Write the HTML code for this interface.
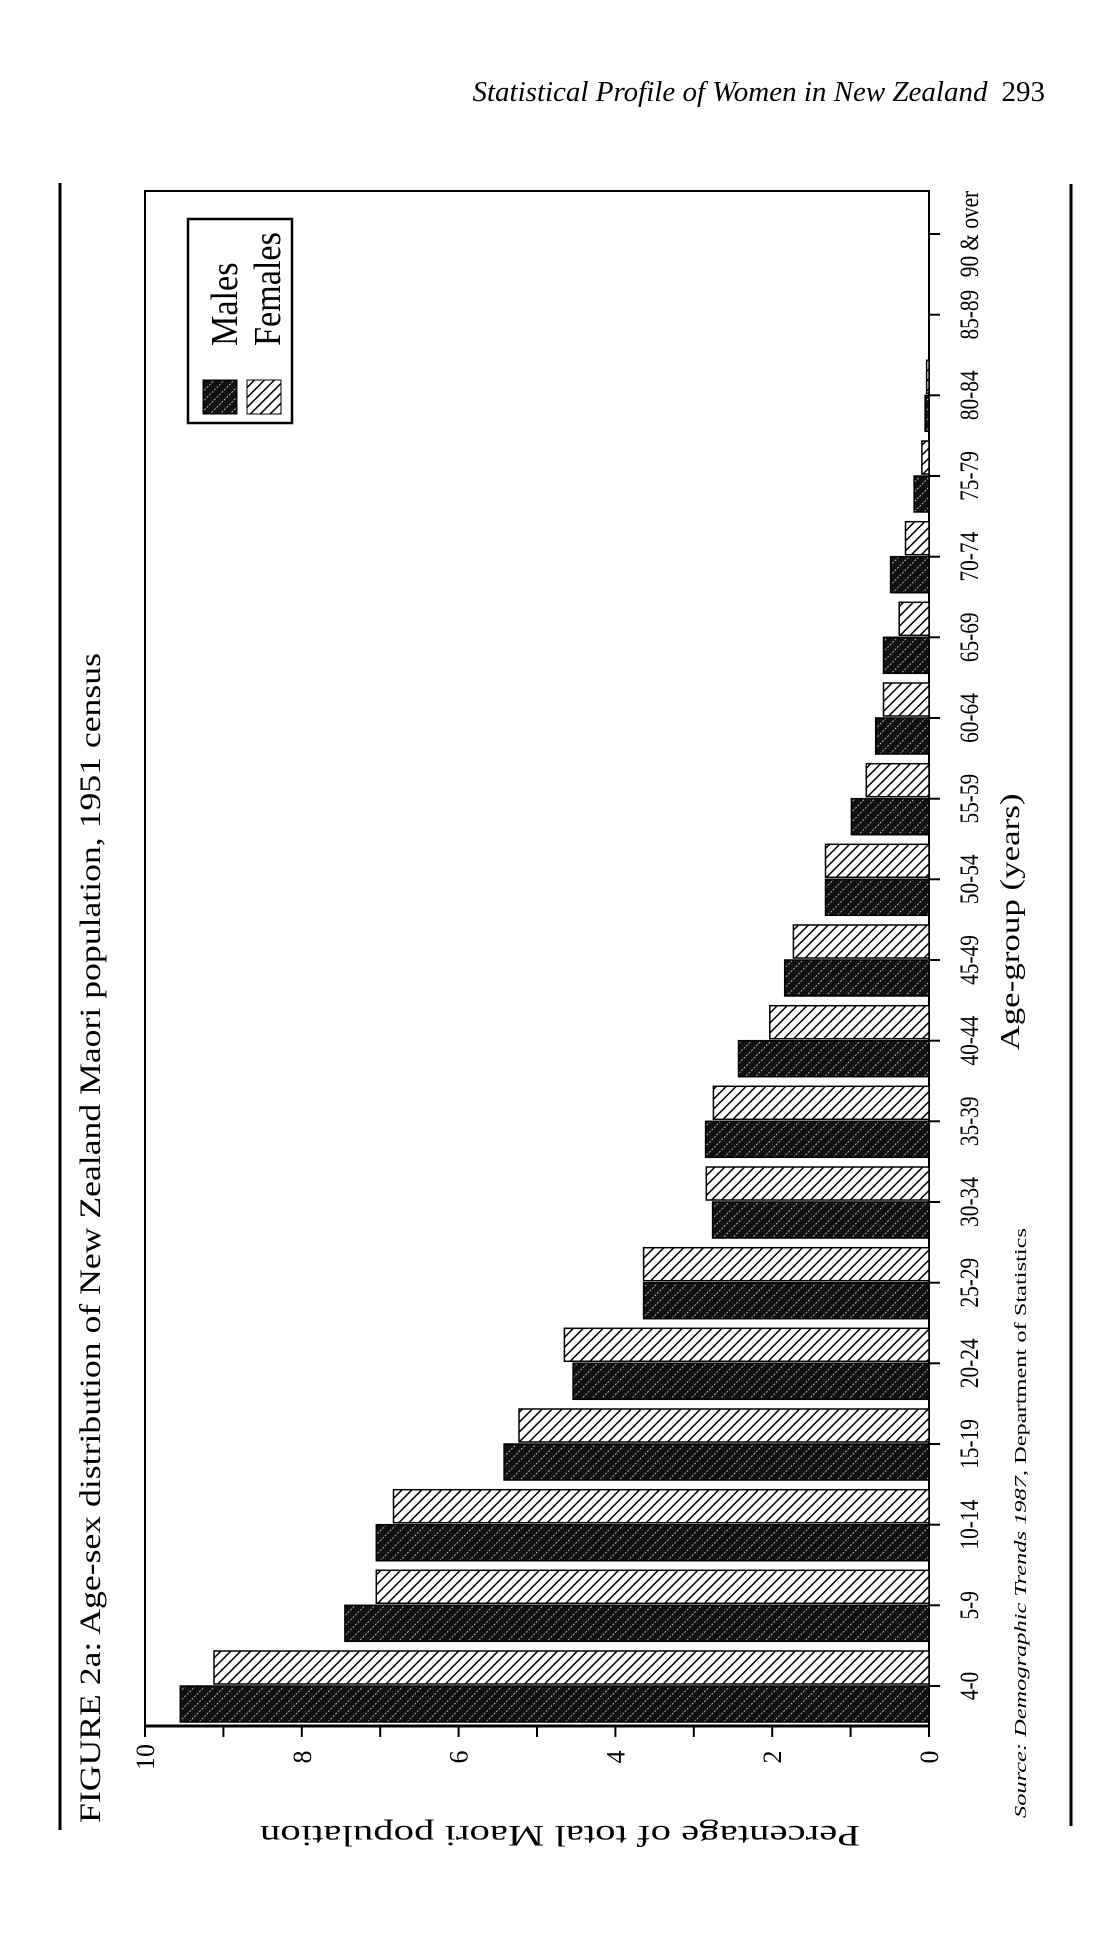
<!DOCTYPE html>
<html><head><meta charset="utf-8"><style>
html,body{margin:0;padding:0;background:#fff;}
svg{display:block;}
text{font-family:"Liberation Serif",serif;fill:#000;}
</style></head><body>
<svg width="1114" height="1942" viewBox="0 0 1114 1942" xmlns="http://www.w3.org/2000/svg">
<defs>
<pattern id="pm" patternUnits="userSpaceOnUse" width="7" height="7" patternTransform="rotate(45)">
<rect width="7" height="7" fill="#111"/>
<line x1="0" y1="0" x2="0" y2="7" stroke="#fff" stroke-width="1.3" stroke-dasharray="2,1.5"/>
</pattern>
<pattern id="pf" patternUnits="userSpaceOnUse" width="7" height="7" patternTransform="rotate(45)">
<rect width="7" height="7" fill="#fff"/>
<line x1="0" y1="0" x2="0" y2="7" stroke="#000" stroke-width="3"/>
</pattern>
</defs>
<text x="1045" y="101" text-anchor="end" font-size="29"><tspan font-style="italic">Statistical Profile of Women in New Zealand</tspan><tspan dx="14">293</tspan></text>
<line x1="60" y1="183" x2="60" y2="1830" stroke="#000" stroke-width="3"/>
<line x1="1071" y1="184" x2="1071" y2="1826" stroke="#000" stroke-width="3"/>
<text transform="translate(100,1823) rotate(-90)" font-size="30" textLength="1170" lengthAdjust="spacingAndGlyphs">FIGURE 2a: Age-sex distribution of New Zealand Maori population, 1951 census</text>
<rect x="145" y="191" width="784" height="1535" fill="none" stroke="#000" stroke-width="2"/>
<line x1="145" y1="1726" x2="929" y2="1726" stroke="#000" stroke-width="3"/>

<g stroke="#000" stroke-width="2">
<line x1="929" y1="1686" x2="940" y2="1686"/><line x1="929" y1="1605.3" x2="940" y2="1605.3"/><line x1="929" y1="1524.7" x2="940" y2="1524.7"/><line x1="929" y1="1444" x2="940" y2="1444"/><line x1="929" y1="1363.3" x2="940" y2="1363.3"/><line x1="929" y1="1282.7" x2="940" y2="1282.7"/><line x1="929" y1="1202" x2="940" y2="1202"/><line x1="929" y1="1121.3" x2="940" y2="1121.3"/><line x1="929" y1="1040.7" x2="940" y2="1040.7"/><line x1="929" y1="960" x2="940" y2="960"/><line x1="929" y1="879.3" x2="940" y2="879.3"/><line x1="929" y1="798.7" x2="940" y2="798.7"/><line x1="929" y1="718" x2="940" y2="718"/><line x1="929" y1="637.3" x2="940" y2="637.3"/><line x1="929" y1="556.7" x2="940" y2="556.7"/><line x1="929" y1="476" x2="940" y2="476"/><line x1="929" y1="395.3" x2="940" y2="395.3"/><line x1="929" y1="314.7" x2="940" y2="314.7"/><line x1="929" y1="234" x2="940" y2="234"/>
<line x1="929" y1="1726" x2="929" y2="1737"/><line x1="850.6" y1="1726" x2="850.6" y2="1737"/><line x1="772.2" y1="1726" x2="772.2" y2="1737"/><line x1="693.8" y1="1726" x2="693.8" y2="1737"/><line x1="615.4" y1="1726" x2="615.4" y2="1737"/><line x1="537" y1="1726" x2="537" y2="1737"/><line x1="458.6" y1="1726" x2="458.6" y2="1737"/><line x1="380.2" y1="1726" x2="380.2" y2="1737"/><line x1="301.8" y1="1726" x2="301.8" y2="1737"/><line x1="223.4" y1="1726" x2="223.4" y2="1737"/><line x1="145" y1="1726" x2="145" y2="1737"/>
</g>

<g stroke="#000" stroke-width="1.5">
<rect x="214" y="1651" width="715" height="33" fill="url(#pf)"/><rect x="180.3" y="1686" width="748.7" height="36" fill="url(#pm)"/>
<rect x="376.3" y="1570.3" width="552.7" height="33" fill="url(#pf)"/><rect x="344.9" y="1605.3" width="584.1" height="36" fill="url(#pm)"/>
<rect x="393.5" y="1489.7" width="535.5" height="33" fill="url(#pf)"/><rect x="376.3" y="1524.7" width="552.7" height="36" fill="url(#pm)"/>
<rect x="519" y="1409" width="410" height="33" fill="url(#pf)"/><rect x="504.1" y="1444" width="424.9" height="36" fill="url(#pm)"/>
<rect x="564.4" y="1328.3" width="364.6" height="33" fill="url(#pf)"/><rect x="573.1" y="1363.3" width="355.9" height="36" fill="url(#pm)"/>
<rect x="643.6" y="1247.7" width="285.4" height="33" fill="url(#pf)"/><rect x="643.6" y="1282.7" width="285.4" height="36" fill="url(#pm)"/>
<rect x="706.3" y="1167" width="222.7" height="33" fill="url(#pf)"/><rect x="712.6" y="1202" width="216.4" height="36" fill="url(#pm)"/>
<rect x="713.4" y="1086.3" width="215.6" height="33" fill="url(#pf)"/><rect x="705.6" y="1121.3" width="223.4" height="36" fill="url(#pm)"/>
<rect x="769.8" y="1005.7" width="159.2" height="33" fill="url(#pf)"/><rect x="738.5" y="1040.7" width="190.5" height="36" fill="url(#pm)"/>
<rect x="793.4" y="925" width="135.6" height="33" fill="url(#pf)"/><rect x="784.7" y="960" width="144.3" height="36" fill="url(#pm)"/>
<rect x="825.5" y="844.3" width="103.5" height="33" fill="url(#pf)"/><rect x="825.5" y="879.3" width="103.5" height="36" fill="url(#pm)"/>
<rect x="866.3" y="763.7" width="62.7" height="33" fill="url(#pf)"/><rect x="851.4" y="798.7" width="77.6" height="36" fill="url(#pm)"/>
<rect x="883.5" y="683" width="45.5" height="33" fill="url(#pf)"/><rect x="875.7" y="718" width="53.3" height="36" fill="url(#pm)"/>
<rect x="899.2" y="602.3" width="29.8" height="33" fill="url(#pf)"/><rect x="883.5" y="637.3" width="45.5" height="36" fill="url(#pm)"/>
<rect x="905.5" y="521.7" width="23.5" height="33" fill="url(#pf)"/><rect x="890.6" y="556.7" width="38.4" height="36" fill="url(#pm)"/>
<rect x="921.9" y="441" width="7.1" height="33" fill="url(#pf)"/><rect x="914.1" y="476" width="14.9" height="36" fill="url(#pm)"/>
<rect x="926.6" y="360.3" width="2.4" height="33" fill="url(#pf)"/><rect x="925.1" y="395.3" width="3.9" height="36" fill="url(#pm)"/>
</g>

<g font-size="26" text-anchor="middle">
<text transform="translate(978,1686) rotate(-90) scale(0.82,1)">4-0</text>
<text transform="translate(978,1605.3) rotate(-90) scale(0.82,1)">5-9</text>
<text transform="translate(978,1524.7) rotate(-90) scale(0.82,1)">10-14</text>
<text transform="translate(978,1444) rotate(-90) scale(0.82,1)">15-19</text>
<text transform="translate(978,1363.3) rotate(-90) scale(0.82,1)">20-24</text>
<text transform="translate(978,1282.7) rotate(-90) scale(0.82,1)">25-29</text>
<text transform="translate(978,1202) rotate(-90) scale(0.82,1)">30-34</text>
<text transform="translate(978,1121.3) rotate(-90) scale(0.82,1)">35-39</text>
<text transform="translate(978,1040.7) rotate(-90) scale(0.82,1)">40-44</text>
<text transform="translate(978,960) rotate(-90) scale(0.82,1)">45-49</text>
<text transform="translate(978,879.3) rotate(-90) scale(0.82,1)">50-54</text>
<text transform="translate(978,798.7) rotate(-90) scale(0.82,1)">55-59</text>
<text transform="translate(978,718) rotate(-90) scale(0.82,1)">60-64</text>
<text transform="translate(978,637.3) rotate(-90) scale(0.82,1)">65-69</text>
<text transform="translate(978,556.7) rotate(-90) scale(0.82,1)">70-74</text>
<text transform="translate(978,476) rotate(-90) scale(0.82,1)">75-79</text>
<text transform="translate(978,395.3) rotate(-90) scale(0.82,1)">80-84</text>
<text transform="translate(978,314.7) rotate(-90) scale(0.82,1)">85-89</text>
<text transform="translate(978,234) rotate(-90) scale(0.82,1)">90 &amp; over</text>
</g>
<g font-size="26" text-anchor="middle">
<text transform="translate(938,1757) rotate(-90)">0</text>
<text transform="translate(781.2,1757) rotate(-90)">2</text>
<text transform="translate(624.4,1757) rotate(-90)">4</text>
<text transform="translate(467.6,1757) rotate(-90)">6</text>
<text transform="translate(310.8,1757) rotate(-90)">8</text>
<text transform="translate(154,1757) rotate(-90)">10</text>
</g>

<rect x="188" y="219" width="104" height="204" fill="#fff" stroke="#000" stroke-width="2.5"/>
<rect x="203" y="380" width="34" height="34" fill="url(#pm)" stroke="#000" stroke-width="1"/>
<rect x="247" y="380" width="34" height="34" fill="url(#pf)" stroke="#000" stroke-width="1"/>
<text transform="translate(237,346) rotate(-90) scale(0.9,1)" font-size="38">Males</text>
<text transform="translate(280,346) rotate(-90) scale(0.9,1)" font-size="38">Females</text>
<text transform="translate(560,1826) rotate(180)" text-anchor="middle" font-size="30" textLength="600" lengthAdjust="spacingAndGlyphs">Percentage of total Maori population</text>
<text transform="translate(1019,922) rotate(-90)" text-anchor="middle" font-size="27" textLength="257" lengthAdjust="spacingAndGlyphs">Age-group (years)</text>
<text transform="translate(1026,1818) rotate(-90)" font-size="17" textLength="590" lengthAdjust="spacingAndGlyphs"><tspan font-style="italic">Source: Demographic Trends 1987</tspan>, Department of Statistics</text>
</svg>
</body></html>
